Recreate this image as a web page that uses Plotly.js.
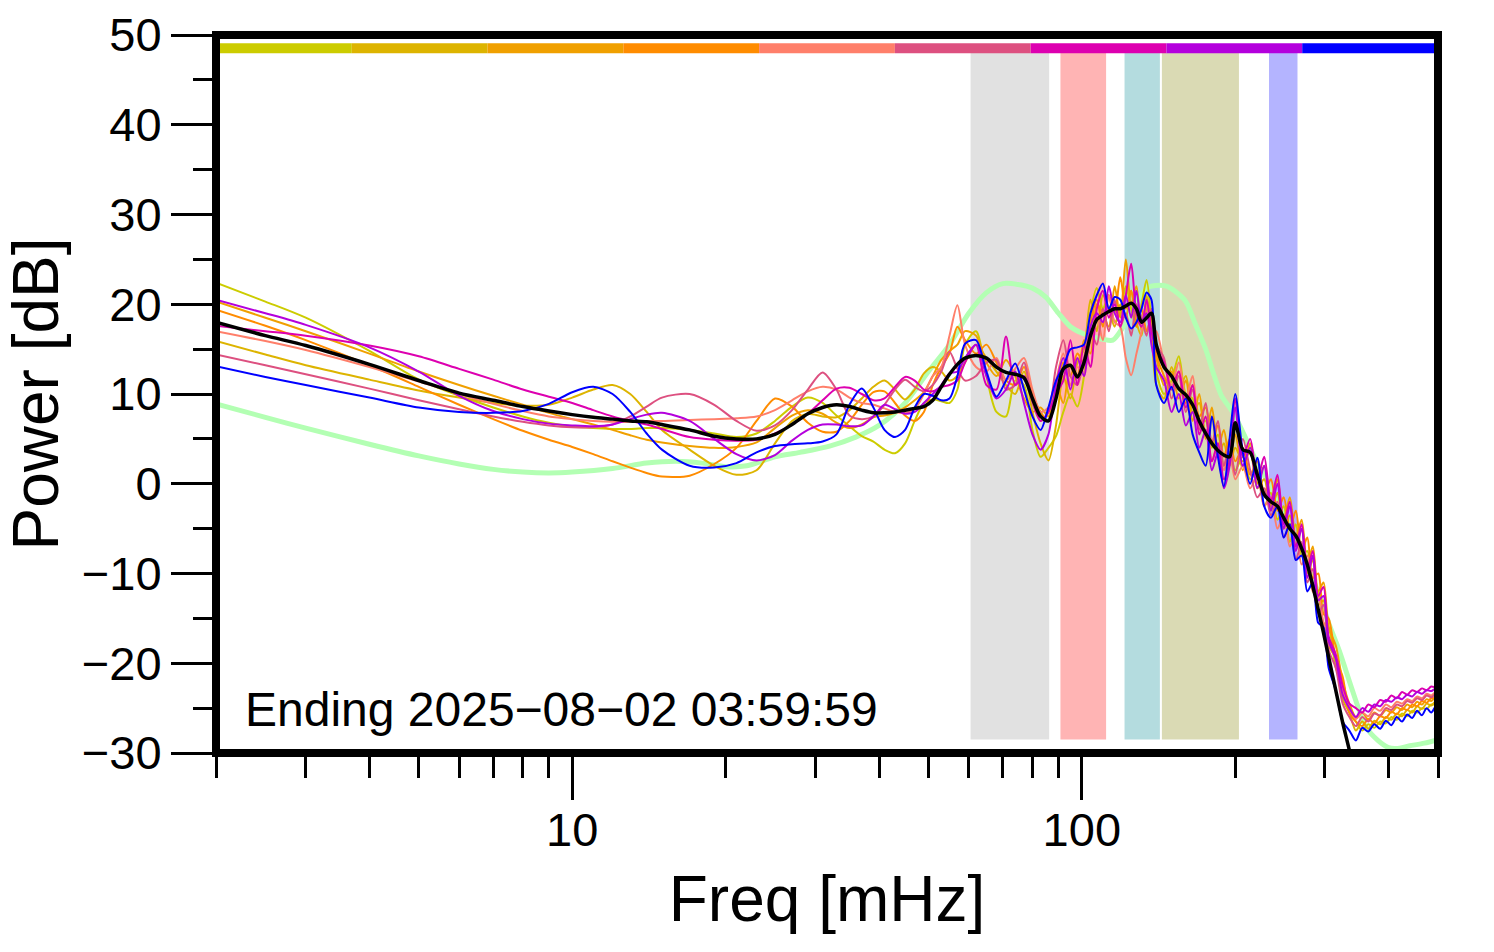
<!DOCTYPE html>
<html><head><meta charset="utf-8">
<script src="https://cdn.plot.ly/plotly-3.0.1.min.js"></script>
<style>html,body{margin:0;padding:0;background:#fff}</style>
</head><body>
<div id="chart" style="width:1494px;height:952px"></div>
<script>
// Frequency grid [mHz]
const freq = [
  2, 2.5, 3, 4, 5, 6, 7, 8, 9, 10,
  11, 12, 13, 14, 15, 17, 19, 21, 23, 25,
  27, 29, 31, 33, 35, 37, 39, 41, 43, 45,
  47, 49, 51, 53, 55, 57, 59, 62, 65, 68,
  71, 74, 77, 80, 83, 86, 89, 92, 95, 98,
  101, 104, 107, 110, 113, 116, 119, 122, 125, 128,
  131, 134, 137, 140, 145, 150, 155, 160, 165, 170,
  175, 180, 185, 190, 195, 200, 207, 214, 221, 228,
  235, 242, 249, 256, 263, 270, 277, 284, 291, 298,
  305, 315, 325, 335, 345, 355, 365, 375, 385, 395,
  405, 415, 425, 435, 445, 455, 465, 475, 485, 495, 500
];

// Power [dB] per segment
const seg1 = [
  22.4, 20.3, 18.5, 14.8, 11.6, 9.8, 8.5, 7.5, 6.8, 6.4,
  6.2, 6.1, 6.1, 6.2, 6.2, 6.0, 5.6, 5.2, 5.6, 7.0,
  8.6, 9.6, 9.0, 7.6, 6.4, 5.3, 4.7, 3.8, 3.4, 4.5,
  7.0, 9.0, 9.4, 9.2, 9.0, 10.5, 15.5, 17.0, 12.0, 8.0,
  7.5, 11.5, 11.0, 6.0, 3.0, 4.0, 5.3, 8.0, 10.0, 8.6,
  12.0, 19.0, 21.8, 19.5, 21.0, 18.0, 19.0, 22.0, 19.5, 17.5,
  20.0, 22.7, 18.0, 12.5, 10.0, 11.5, 14.2, 10.0, 9.5, 6.5,
  7.0, 4.0, 5.5, 2.0, 3.5, 1.5, 3.0, 0.5, 1.5, -2.5,
  -1.0, -4.0, -2.5, -6.5, -4.5, -8.0, -7.5, -11.5, -12.0, -15.5,
  -16.0, -20.5, -22.5, -25.5, -26.5, -27.5, -26.8, -27.2, -26.5, -26.7,
  -26.0, -26.3, -25.6, -25.9, -25.3, -25.5, -25.0, -25.1, -24.6, -24.6, -24.4
];
const seg2 = [
  15.9, 14.4, 13.2, 11.6, 10.4, 9.6, 9.0, 8.7, 8.8, 9.6,
  10.5, 11.0, 10.0, 8.0, 6.0, 3.8, 2.0, 1.0, 1.5, 4.5,
  7.0, 7.8, 7.5, 7.4, 8.2, 9.5, 10.8, 11.5, 10.5, 9.4,
  10.5, 12.3, 13.0, 12.5, 11.5, 12.0, 13.5, 15.5, 14.0, 12.5,
  11.0, 10.0, 12.5, 8.0, 4.5, 2.6, 6.5, 12.0, 9.5, 13.5,
  15.0, 20.5, 17.0, 21.0, 19.5, 17.5, 20.0, 18.5, 21.5, 18.0,
  16.5, 21.0, 17.0, 11.0, 9.5, 13.0, 10.5, 12.0, 8.0, 9.0,
  5.5, 7.5, 3.0, 4.5, 2.0, 4.0, 2.5, 3.5, -0.5, 0.5,
  -3.0, -1.0, -5.0, -3.5, -7.0, -5.0, -10.0, -8.5, -13.5, -13.0,
  -18.0, -19.5, -24.0, -25.5, -27.5, -26.5, -27.3, -26.4, -26.8, -26.0,
  -26.3, -25.6, -25.9, -25.2, -25.5, -24.8, -25.1, -24.5, -24.7, -24.2, -24.1
];
const seg3 = [
  20.3, 18.5, 17.0, 14.5, 12.5, 11.0, 9.8, 8.8, 7.9, 7.2,
  6.6, 6.0, 5.4, 4.9, 4.6, 4.2, 4.0, 4.1, 4.6, 6.2,
  7.6, 8.2, 7.8, 6.8, 6.2, 6.6, 7.4, 7.6, 7.9, 8.5,
  9.3, 10.2, 12.0, 13.8, 14.8, 15.5, 17.0, 16.5, 13.5, 12.0,
  13.8, 12.0, 9.5, 8.0, 8.5, 7.5, 11.0, 9.0, 13.0, 12.0,
  16.0, 14.5, 20.0, 19.0, 17.5, 22.0, 18.5, 25.0, 20.0, 22.0,
  17.0, 19.5, 16.0, 14.0, 11.0, 12.5, 9.5, 11.5, 7.0, 10.0,
  5.0, 8.5, 4.0, 6.0, 2.5, 5.5, 1.5, 4.5, 0.0, 2.0,
  -2.5, 0.5, -4.0, -1.5, -6.0, -4.0, -9.0, -7.0, -12.0, -11.0,
  -16.0, -18.0, -22.0, -24.5, -26.0, -25.5, -26.3, -25.5, -25.9, -25.2,
  -25.5, -24.9, -25.2, -24.6, -24.9, -24.3, -24.6, -24.0, -24.2, -23.7, -23.6
];
const seg4 = [
  19.4, 17.6, 16.0, 13.2, 10.8, 8.8, 7.2, 5.9, 4.9, 4.1,
  3.3, 2.5, 1.8, 1.2, 0.8, 0.9, 2.2, 4.0, 7.0, 9.5,
  8.6, 6.8, 5.8, 5.8, 7.0, 8.8, 10.2, 10.3, 9.0, 7.6,
  7.0, 8.0, 11.0, 13.0, 14.5, 17.5, 16.0, 14.5, 15.5, 13.5,
  11.5, 11.0, 13.0, 10.0, 8.0, 7.0, 10.0, 13.5, 12.0, 14.5,
  13.5, 18.0, 20.5, 17.5, 21.0, 19.0, 23.0, 19.5, 21.5, 17.5,
  19.5, 17.0, 18.5, 14.5, 12.0, 10.5, 12.5, 9.0, 11.0, 7.5,
  8.5, 4.5, 6.5, 3.0, 5.0, 2.5, 4.0, 1.0, 2.5, -1.0,
  0.5, -3.0, -1.5, -5.0, -3.0, -7.5, -6.0, -10.5, -10.0, -14.5,
  -15.0, -19.5, -21.5, -25.5, -26.5, -27.0, -26.2, -26.7, -25.9, -26.1,
  -25.4, -25.7, -25.0, -25.2, -24.6, -24.8, -24.2, -24.4, -23.9, -23.9, -23.8
];
const seg5 = [
  17.0, 15.9, 14.9, 13.0, 11.4, 10.0, 8.9, 8.1, 7.5, 7.2,
  7.0, 6.9, 6.9, 7.0, 7.0, 7.1, 7.2, 7.3, 7.5, 8.2,
  9.3, 10.3, 10.8, 10.5, 9.6, 9.0, 8.8, 8.4, 8.0, 7.9,
  8.3, 10.0, 12.0, 13.0, 16.5, 19.9, 15.5, 13.0, 12.5, 14.0,
  11.5, 12.8, 14.0, 10.5, 8.0, 8.5, 11.5, 14.5, 11.0, 13.0,
  12.5, 16.0, 18.5, 16.0, 21.0, 18.0, 17.5, 14.0, 12.1, 14.5,
  17.0, 20.0, 16.0, 17.0, 13.5, 11.0, 13.5, 9.5, 12.0, 6.5,
  6.0, 2.5, 4.5, 1.5, 3.5, 0.5, 2.0, -0.5, 1.0, -2.5,
  -1.5, -5.0, -3.5, -7.0, -5.5, -9.0, -8.0, -12.0, -12.5, -15.5,
  -17.5, -19.5, -23.0, -25.0, -26.2, -25.5, -25.9, -25.0, -25.3, -24.6,
  -24.9, -24.3, -24.5, -24.0, -24.2, -23.7, -23.9, -23.4, -23.6, -23.2, -23.2
];
const seg6 = [
  14.4, 13.2, 12.2, 10.6, 9.3, 8.3, 7.5, 6.9, 6.5, 6.3,
  6.3, 6.6, 7.5, 8.6, 9.6, 10.0, 8.8, 7.0, 5.9, 6.5,
  8.2, 10.5, 12.4, 10.5, 7.6, 7.2, 7.5, 8.8, 10.5, 11.6,
  10.8, 10.3, 11.0, 12.5, 14.7, 12.8, 11.5, 12.0, 13.5, 13.8,
  10.5, 11.0, 13.5, 9.0, 7.0, 8.0, 13.0, 16.0, 12.0, 11.0,
  14.0, 17.0, 15.5, 19.5, 17.0, 20.5, 17.5, 19.0, 16.5, 20.0,
  18.5, 16.5, 19.5, 15.5, 14.0, 9.5, 12.0, 8.0, 10.5, 6.0,
  9.0, 4.5, 7.0, 2.0, 4.5, 1.0, 5.0, 1.5, -1.5, -0.5,
  -3.5, -2.0, -6.0, -4.5, -8.5, -6.5, -11.0, -9.5, -14.5, -13.5,
  -18.5, -20.5, -24.5, -26.0, -27.0, -26.0, -26.5, -25.6, -25.8, -25.0,
  -25.2, -24.6, -24.8, -24.2, -24.4, -23.9, -24.1, -23.6, -23.8, -23.4, -23.4
];
const seg7 = [
  17.6, 17.0, 16.5, 15.4, 14.2, 12.8, 11.6, 10.5, 9.7, 9.0,
  8.2, 7.5, 7.0, 6.6, 6.1, 5.2, 4.9, 4.8, 4.9, 5.6,
  6.6, 7.8, 9.3, 10.6, 10.7, 10.0, 9.3, 9.5, 10.8, 11.9,
  11.5, 10.5, 10.3, 10.8, 11.0, 11.5, 13.5, 15.5, 11.0, 10.5,
  16.4, 11.0, 12.0, 9.5, 7.0, 8.0, 10.0, 11.5, 16.0, 11.0,
  15.5, 13.0, 19.5, 21.5, 18.5, 20.0, 17.5, 21.0, 24.5, 19.0,
  17.5, 20.5, 17.0, 15.0, 13.5, 10.5, 12.5, 8.5, 11.0, 5.5,
  7.5, 2.5, 4.5, 0.5, 2.5, 9.5, 3.0, 5.0, 0.5, 3.0,
  -2.0, 1.0, -4.5, -2.0, -7.0, -4.5, -9.5, -7.5, -12.5, -11.5,
  -17.0, -19.0, -22.5, -24.5, -25.0, -25.5, -24.6, -24.9, -24.1, -24.3,
  -23.6, -23.9, -23.2, -23.5, -23.0, -23.2, -22.8, -23.0, -22.6, -22.7, -22.6
];
const seg8 = [
  20.5, 19.0, 17.7, 15.2, 12.5, 9.8, 8.1, 7.2, 6.7, 6.5,
  6.4, 6.6, 7.2, 7.7, 7.9, 7.0, 5.0, 3.3, 2.6, 3.2,
  4.8, 6.0, 6.6, 6.6, 6.4, 6.5, 7.5, 8.8, 8.3, 7.8,
  8.0, 9.0, 10.0, 11.0, 12.3, 12.5, 14.0, 15.5, 12.0, 9.5,
  10.5, 12.5, 9.0, 5.5, 3.8, 5.5, 11.0, 14.0, 10.5, 14.0,
  12.0, 17.5, 19.0, 18.0, 22.0, 19.0, 18.0, 21.0, 18.5, 21.5,
  18.0, 19.0, 15.5, 13.0, 11.5, 8.0, 10.0, 6.5, 8.0, 4.0,
  6.0, 1.5, 3.5, -0.5, 2.0, 8.5, 2.0, 4.0, -0.5, 2.0,
  -3.0, 0.0, -5.0, -2.5, -7.5, -5.0, -10.5, -8.0, -13.0, -12.5,
  -17.5, -19.5, -23.5, -25.0, -26.0, -25.0, -25.4, -24.6, -24.8, -24.1,
  -24.3, -23.8, -24.0, -23.5, -23.7, -23.2, -23.4, -23.0, -23.1, -22.8, -22.9
];
const seg9 = [
  13.1, 11.9, 11.0, 9.6, 8.5, 8.0, 7.9, 8.1, 8.9, 10.2,
  10.8, 10.0, 8.0, 5.6, 3.8, 2.0, 1.8, 2.3, 3.5, 4.2,
  4.4, 4.5, 4.7, 5.5, 8.8, 10.6, 8.5, 6.0, 5.2, 6.0,
  8.5, 10.0, 9.8, 9.3, 9.5, 12.0, 15.6, 16.0, 12.5, 9.7,
  11.5, 13.4, 10.5, 7.5, 6.0, 8.5, 11.5, 13.0, 15.0, 15.2,
  15.5, 19.0, 21.0, 22.3, 19.5, 20.8, 20.5, 18.5, 17.3, 18.0,
  19.5, 21.3, 20.5, 11.0, 9.0, 10.8, 8.0, 9.5, 5.5, 3.5,
  2.0, 7.5, 3.0, -0.3, 5.0, 10.0, 3.5, 0.0, 2.9, -2.5,
  -3.8, -2.5, -6.0, -4.5, -8.5, -8.0, -12.0, -11.0, -15.5, -16.0,
  -20.5, -23.0, -26.5, -27.5, -28.6, -27.2, -27.6, -26.8, -27.3, -26.4,
  -26.9, -26.0, -26.5, -25.7, -26.1, -25.3, -25.8, -25.0, -25.5, -24.8, -25.0
];
// Mean of all segments
const meanPower = [
  18.0, 16.5, 15.4, 13.3, 11.5, 10.1, 9.3, 8.6, 8.1, 7.7,
  7.4, 7.2, 7.0, 6.9, 6.6, 6.0, 5.3, 5.0, 5.0, 5.5,
  6.6, 7.8, 8.5, 8.8, 8.6, 8.2, 7.9, 7.9, 8.0, 8.2,
  8.4, 8.6, 9.3, 10.8, 12.2, 13.3, 14.0, 14.3, 14.0, 13.0,
  12.4, 12.2, 11.8, 9.5, 7.5, 7.0, 9.5, 12.8, 13.2, 11.9,
  13.5, 16.5, 18.3, 18.8, 19.2, 19.5, 19.5, 19.8, 20.1, 19.5,
  18.0, 18.5, 19.0, 15.5, 13.0, 12.0, 10.6, 9.9, 8.8, 7.0,
  5.6, 4.5, 3.7, 3.2, 3.0, 6.8, 3.8, 3.5, 1.0, -1.2,
  -2.0, -2.5, -3.8, -5.0, -5.8, -7.2, -9.0, -11.4, -14.0, -16.6,
  -19.3, -23.0, -26.6, -29.7, -33, -36, -38, -38, -38, -38,
  -38, -38, -38, -38, -38, -38, -38, -38, -38, -38, -38
];
// Reference spectrum
const refFreq = [
  2, 2.5, 3, 4, 5, 6, 7, 8, 9, 10,
  12, 14, 16, 18, 20, 22, 25, 28, 32, 36,
  40, 45, 50, 55, 60, 65, 70, 75, 80, 85,
  90, 95, 100, 105, 110, 115, 120, 125, 130, 135,
  140, 147, 152, 160, 167, 175, 182, 188, 195, 200,
  210, 220, 230, 240, 250, 260, 270, 283, 295, 305,
  320, 335, 348, 360, 381, 400, 414, 440, 470, 500
];
const refPower = [
  8.9, 7.4, 6.2, 4.4, 3.1, 2.2, 1.6, 1.3, 1.2, 1.3,
  1.7, 2.3, 2.5, 2.3, 1.9, 2.0, 3.0, 3.5, 4.2, 5.2,
  6.5, 9.0, 12.5, 15.5, 19.0, 21.3, 22.3, 22.2, 21.8, 20.8,
  19.0, 17.5, 16.8, 16.4, 16.1, 16.0, 17.3, 19.0, 20.8, 21.9,
  22.1, 22.0, 21.5, 20.3, 17.8, 15.0, 12.0, 9.8, 8.5, 7.5,
  5.0, 2.5, 0.5, -1.5, -3.5, -5.5, -7.5, -10.4, -13.0, -15.5,
  -18.6, -22.0, -24.8, -27.0, -28.6, -29.4, -29.5, -29.2, -28.9, -28.5
];
const segColors = ['#cccc00','#ddb400','#f0a000','#ff8c00','#ff7f6a','#dd5080','#dd00b0','#b400dd','#0000ff'];
const segNames = ['Seg 1','Seg 2','Seg 3','Seg 4','Seg 5','Seg 6','Seg 7','Seg 8','Seg 9'];
// Highlighted frequency bands [mHz]
const bandLo = [60.5, 90.8, 121.3, 143.6, 233];
const bandHi = [86.3, 111.6, 142.3, 203.4, 265];
const bandColors = ['#e1e1e1','#ffb4b4','#b4dcdf','#dadab4','#b4b4ff'];
const bandTop = 48.0, bandBottom = -28.5;
const xTickVals = [10, 100];
const xMinorVals = [2,3,4,5,6,7,8,9,20,30,40,50,60,70,80,90,200,300,400,500];
const yTickVals = [-30,-20,-10,0,10,20,30,40,50];
const stampText = 'Ending 2025\u221208\u221202 03:59:59';

const segs = [seg1, seg2, seg3, seg4, seg5, seg6, seg7, seg8, seg9];
const traces = [];
bandLo.forEach((lo, i) => {
  traces.push({
    x: [lo, bandHi[i], bandHi[i], lo, lo],
    y: [bandTop, bandTop, bandBottom, bandBottom, bandTop],
    mode: 'lines', fill: 'toself', fillcolor: bandColors[i],
    line: {width: 0, color: bandColors[i]}, hoverinfo: 'skip', showlegend: false
  });
});
traces.push({x: refFreq, y: refPower, mode: 'lines', name: 'Reference',
  line: {color: '#b3ffb3', width: 5, shape: 'spline', smoothing: 0.8}, showlegend: false});
segs.forEach((s, i) => {
  traces.push({x: freq, y: s, mode: 'lines', name: segNames[i],
    line: {color: segColors[i], width: 2, shape: 'spline', smoothing: 0.8}, showlegend: false});
});
traces.push({x: freq, y: meanPower, mode: 'lines', name: 'Mean',
  line: {color: '#000000', width: 3.5, shape: 'spline', smoothing: 0.8}, showlegend: false});

const shapes = segColors.map((c, i) => ({
  type: 'rect', xref: 'paper', yref: 'y', x0: i / 9, x1: (i + 1) / 9, y0: 47.96, y1: 49.08,
  fillcolor: c, line: {width: 0}, layer: 'above'
}));
shapes.push({type: 'rect', xref: 'paper', yref: 'paper', x0: 0, x1: 1, y0: 0, y1: 1,
  line: {color: '#000', width: 8}, layer: 'above'});

const font = 'Liberation Sans, Arial, Helvetica, sans-serif';
const layout = {
  width: 1494, height: 952,
  margin: {l: 216, r: 56, t: 35, b: 199},
  paper_bgcolor: '#fff', plot_bgcolor: '#fff',
  font: {family: font, color: '#000'},
  showlegend: false,
  xaxis: {
    type: 'log', range: [Math.log10(2), Math.log10(500)],
    tickmode: 'array', tickvals: xTickVals, ticktext: xTickVals.map(String),
    ticks: 'outside', ticklen: 46, tickwidth: 3, tickcolor: '#000',
    ticklabelstandoff: -10,
    minor: {tickmode: 'array', tickvals: xMinorVals, ticks: 'outside', ticklen: 24, tickwidth: 3, tickcolor: '#000'},
    showgrid: false, zeroline: false, showline: false,
    tickfont: {size: 47, family: font},
    title: {text: 'Freq [mHz]', font: {size: 64, family: font}, standoff: 20}
  },
  yaxis: {
    range: [-30, 50], tickmode: 'array', tickvals: yTickVals,
    ticks: 'outside', ticklen: 44, tickwidth: 3, tickcolor: '#000',
    minor: {dtick: 5, ticks: 'outside', ticklen: 22, tickwidth: 3, tickcolor: '#000'},
    showgrid: false, zeroline: false, showline: false,
    tickfont: {size: 47, family: font},
    title: {text: 'Power [dB]', font: {size: 64, family: font}, standoff: 10}
  },
  shapes: shapes,
  annotations: [{
    text: stampText, xref: 'paper', yref: 'paper', x: 0.0225, y: 0.06,
    xanchor: 'left', yanchor: 'middle', showarrow: false, font: {size: 48, family: font}
  }]
};
Plotly.newPlot('chart', traces, layout, {staticPlot: true, displayModeBar: false});
</script>
</body></html>
